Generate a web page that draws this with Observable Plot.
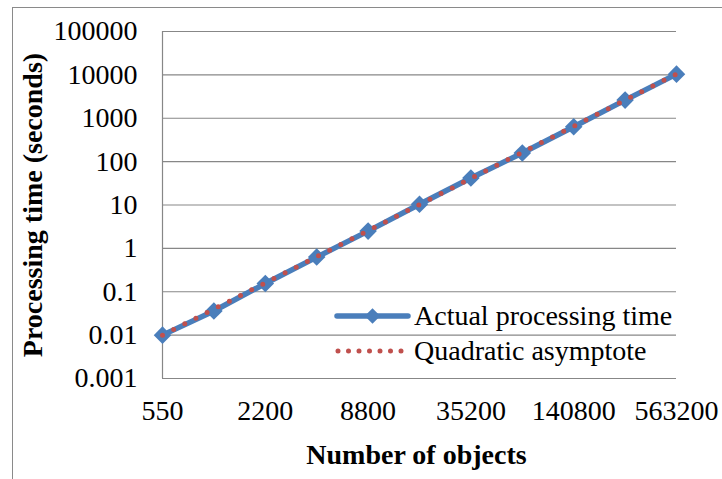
<!DOCTYPE html>
<html>
<head>
<meta charset="utf-8">
<script src="https://cdn.jsdelivr.net/npm/d3@7"></script>
<script src="https://cdn.jsdelivr.net/npm/@observablehq/plot@0.6"></script>
<style>
  html, body { margin: 0; padding: 0; background: #fff; }
  #wrap { position: relative; width: 722px; height: 479px; overflow: hidden; background: #fff; }
  #frame { position: absolute; left: 12px; top: 7px; width: 720px; height: 480px; border: 1px solid #8a8a8a; box-sizing: border-box; }
  #chart { position: absolute; left: 0; top: 0; }
  #legend { position: absolute; left: 0; top: 0; }
</style>
</head>
<body>
<div id="wrap">
  <div id="frame"></div>
  <div id="chart"></div>
  <svg id="legend" width="722" height="479"></svg>
</div>
<script>
// Data
const objects = [550, 1100, 2200, 4400, 8800, 17600, 35200, 70400, 140800, 281600, 563200];
const actualTime = [0.01, 0.036, 0.155, 0.63, 2.5, 10.4, 42, 158, 637, 2620, 10400];
const quadraticAsymptote = [0.01, 0.04, 0.16, 0.64, 2.56, 10.24, 40.96, 163.84, 655.36, 2621.44, 10485.76];
const xTickValues = [550, 2200, 8800, 35200, 140800, 563200];
const yTickValues = [0.001, 0.01, 0.1, 1, 10, 100, 1000, 10000, 100000];
const seriesNames = ["Actual processing time", "Quadratic asymptote"];
const xTitle = "Number of objects";
const yTitle = "Processing time (seconds)";

const BLUE = "#4A7EBB";
const RED = "#C0504D";
const GRID = "#878787";
const FONT = "'Liberation Serif', 'Times New Roman', serif";
const FS = 28;

const rows = objects.map((n, i) => ({n, actual: actualTime[i], quad: quadraticAsymptote[i]}));

const diamond = {
  draw(ctx, size) {
    const r = Math.sqrt(size / 2);
    ctx.moveTo(0, -r); ctx.lineTo(r, 0); ctx.lineTo(0, r); ctx.lineTo(-r, 0); ctx.closePath();
  }
};

const chart = Plot.plot({
  width: 722,
  height: 479,
  marginLeft: 162,
  marginRight: 46,
  marginTop: 31,
  marginBottom: 101,
  style: {fontFamily: FONT, fontSize: FS + "px", color: "#000", background: "transparent", overflow: "visible"},
  x: {type: "log", base: 2, domain: [550, 563200]},
  y: {type: "log", domain: [0.001, 100000]},
  marks: [
    Plot.ruleY(yTickValues, {stroke: GRID, strokeWidth: 1.2}),
    Plot.ruleX([550], {stroke: GRID, strokeWidth: 1.2}),
    Plot.line(rows, {x: "n", y: "actual", stroke: BLUE, strokeWidth: 5.5, strokeLinejoin: "round"}),
    Plot.dot(rows, {x: "n", y: "actual", symbol: diamond, r: 7, fill: BLUE, stroke: null}),
    Plot.line(rows, {x: "n", y: "quad", stroke: RED, strokeWidth: 5, strokeDasharray: "0,12.5", strokeLinecap: "round"}),
    Plot.axisX(xTickValues, {tickSize: 0, tickPadding: 22, tickFormat: d => String(d), label: null, fontSize: FS}),
    Plot.axisY(yTickValues, {tickSize: 0, tickPadding: 25, tickFormat: d => String(d), label: null, fontSize: FS}),
    Plot.text([xTitle], {frameAnchor: "bottom", dy: 77, dx: -3, lineAnchor: "middle", textAnchor: "middle", fontWeight: "bold", fontSize: FS}),
    Plot.text([yTitle], {frameAnchor: "left", dx: -129, rotate: -90, lineAnchor: "middle", textAnchor: "middle", fontWeight: "bold", fontSize: FS})
  ]
});
document.getElementById("chart").appendChild(chart);

// Legend
const leg = d3.select("#legend");
const items = [
  {name: seriesNames[0], y: 316, kind: "actual"},
  {name: seriesNames[1], y: 351, kind: "quad"}
];
items.forEach(it => {
  if (it.kind === "actual") {
    leg.append("line").attr("x1", 337).attr("x2", 408).attr("y1", it.y).attr("y2", it.y)
      .attr("stroke", BLUE).attr("stroke-width", 5.5).attr("stroke-linecap", "round");
    leg.append("path").attr("d", d3.symbol(diamond, 120)()).attr("transform", `translate(372.5,${it.y})`).attr("fill", BLUE);
  } else {
    leg.append("line").attr("x1", 338).attr("x2", 408).attr("y1", it.y).attr("y2", it.y)
      .attr("stroke", RED).attr("stroke-width", 5).attr("stroke-linecap", "round").attr("stroke-dasharray", "0,10.5");
  }
  leg.append("text").attr("x", 414).attr("y", it.y).attr("dy", "0.32em")
    .attr("font-family", FONT).attr("font-size", FS).attr("fill", "#000").text(it.name);
});
</script>
</body>
</html>
